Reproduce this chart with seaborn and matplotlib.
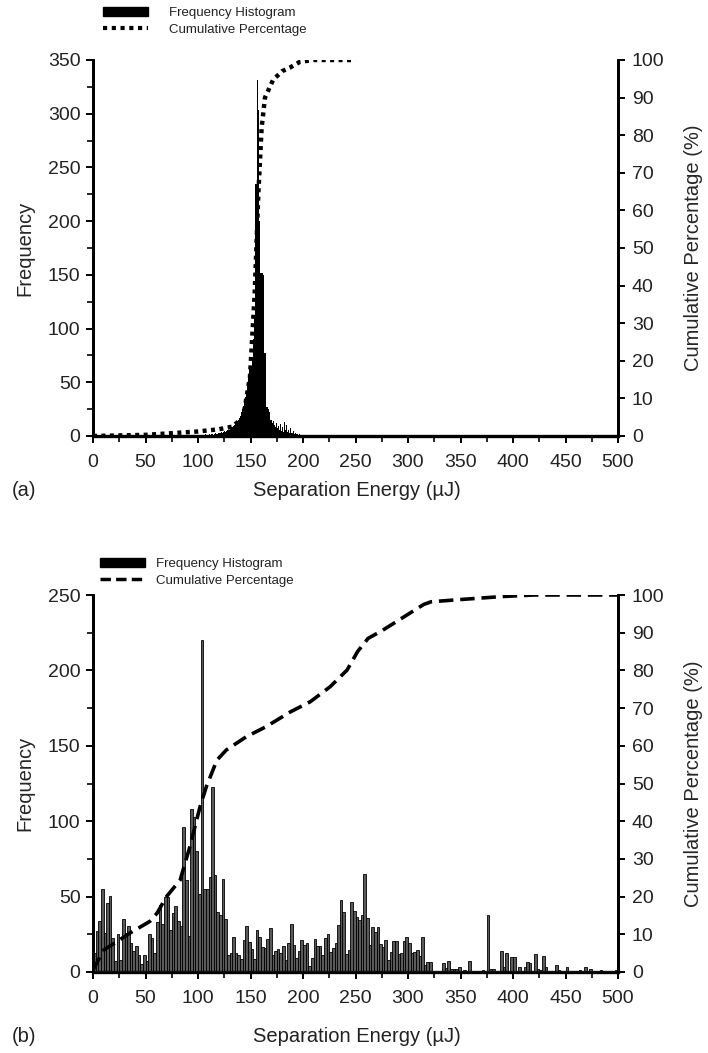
import numpy as np
import pandas as pd
import matplotlib
matplotlib.use("Agg")
import matplotlib.pyplot as plt
import seaborn as sns
from matplotlib.patches import Patch
from matplotlib.lines import Line2D
from matplotlib.ticker import MultipleLocator

# ---------------- data: panel (a) ----------------
# 1 uJ bins starting at 100 uJ (left edges)
top_bin_start = 100
top_freq = [
    1, 0, 1, 1, 0, 1, 1, 2, 1, 1,          # 100-109
    2, 1, 2, 2, 1, 2, 3, 2, 2, 3,          # 110-119
    3, 3, 4, 3, 4, 5, 4, 5, 6, 6,          # 120-129
    7, 8, 8, 9, 10, 11, 12, 14, 15, 17,    # 130-139
    19, 22, 25, 28, 32, 36, 42, 48, 55, 62,  # 140-149
    65, 72, 90, 110, 235, 235, 331, 303, 200, 152,  # 150-159
    152, 152, 150, 77, 77, 27, 27, 25, 22, 15,  # 160-169
    12, 14, 10, 8, 12, 7, 9, 6, 11, 5,     # 170-179
    8, 4, 13, 6, 10, 4, 6, 3, 7, 3,        # 180-189
    5, 2, 3, 2, 2, 1, 2, 1, 1, 1,          # 190-199
    1, 0, 1, 0, 1, 0, 1, 0, 0, 1,          # 200-209
]
top_cum_energy = [0, 50, 100, 120, 133, 143, 149.5, 154, 157.5, 160.6, 163.8,
                  171.5, 180, 187.6, 197, 210, 250]
top_cum_pct = [0, 0.3, 1.2, 1.8, 2.5, 5, 15.7, 38, 64.6, 82, 90,
               94.7, 97, 98, 99.5, 100, 100]

# ---------------- data: panel (b) ----------------
# 2.5 uJ bins from 0 to 500 uJ
bot_bin_width = 2.5
bot_freq_dense = [
    12.6, 27, 33.6, 55, 26, 45.8, 50.6, 22.5, 7, 25,
    8, 35, 26, 30.7, 19, 13.7, 17, 11, 5, 11,
    7, 25, 22.5, 12.6, 33, 44.6, 32, 50, 50, 27.6,
    39, 44, 33.6, 30.7, 96, 61, 23.6, 108, 103, 80,
    52, 220, 55, 55, 63, 123, 64.5, 40, 38, 62,
    35, 11, 12.6, 23, 12.6, 11, 8.6, 21, 30.7, 20,
    15, 8.6, 28, 23, 16.6, 16, 22, 29, 11, 14,
    15, 12.6, 17, 8, 19, 32, 18, 9, 13.7, 21,
    18, 19, 4, 9, 22, 17, 17.5, 11.5, 22.5, 25,
    13, 16, 19, 31, 48, 40, 12, 14.6, 46.6, 40.7,
    36.7, 34.5, 37.8, 64.8, 35.6, 18, 29.6, 26.7, 29.6, 18.6,
    16.8, 21, 8, 13.5, 20.6, 20.6, 12, 12.4, 20.6, 23.4,
    19.5, 12.8, 13.5, 14.6, 10.6, 23.4, 4.6, 6.9, 6.9,
]
# sparse tail: bin index -> frequency
bot_tail_bin = [133, 134, 135, 136, 137, 138, 139, 141, 143, 146, 148, 150, 151, 152,
                155, 156, 157, 159, 160, 162, 164, 165, 166, 168, 169, 170, 171, 172,
                176, 177, 180, 185, 187, 189, 193, 199]
bot_tail_freq = [6, 2.5, 7.5, 2, 2, 2, 3.5, 1.3, 7, 0.5, 1.3, 37.8, 1.8, 1.8,
                 14, 3, 12.8, 9.7, 9.7, 3.5, 3, 6.9, 6.2, 11.7, 1.8, 1.3, 10.6, 3,
                 4.6, 1.3, 3.5, 1.3, 3, 1.8, 1.3, 1.3]
bot_cum_energy = [0, 10, 22.5, 35, 54, 61, 70, 83, 92, 102, 108, 113, 118, 127,
                  146, 165, 188, 207, 226, 242, 252, 262, 275, 295, 315, 322,
                  350, 390, 420, 500]
bot_cum_pct = [0.5, 5.8, 8, 10.3, 13.4, 15.6, 20, 24.4, 33, 43.9, 49.2, 52.7, 56.2, 58.9,
               62.4, 65.1, 69, 71.7, 75.7, 80.1, 85, 88.5, 90.5, 94, 97.5, 98.2,
               98.8, 99.6, 100, 100]

x_ticks = list(range(0, 501, 50))

# ---------------- build frames ----------------
top_edges = [top_bin_start + i for i in range(len(top_freq) + 1)]
df_top = pd.DataFrame({"energy": [e + 0.5 for e in top_edges[:-1]], "freq": top_freq})

n_bot = 200
bot_freq = np.zeros(n_bot)
bot_freq[:len(bot_freq_dense)] = bot_freq_dense
bot_freq[bot_tail_bin] = bot_tail_freq
bot_edges = [i * bot_bin_width for i in range(n_bot + 1)]
df_bot = pd.DataFrame({"energy": [e + bot_bin_width / 2 for e in bot_edges[:-1]],
                       "freq": bot_freq})

df_top_cum = pd.DataFrame({"energy": top_cum_energy, "pct": top_cum_pct})
df_bot_cum = pd.DataFrame({"energy": bot_cum_energy, "pct": bot_cum_pct})

# ---------------- style ----------------
sns.set_theme(style="white")
plt.rcParams["font.family"] = ["Liberation Sans", "DejaVu Sans"]
plt.rcParams["text.color"] = "#222222"

fig = plt.figure(figsize=(7.08, 10.53), dpi=100)
W, H = 708, 1053
ax1 = fig.add_axes([93 / W, 1 - 436 / H, 525 / W, 376 / H])
ax2 = fig.add_axes([93 / W, 1 - 972 / H, 525 / W, 377 / H])

TICK_FS = 14
LABEL_FS = 14.5

sns.histplot(data=df_top, x="energy", weights="freq", bins=top_edges,
             color="black", alpha=1, linewidth=0, ax=ax1, legend=False)
sns.histplot(data=df_bot, x="energy", weights="freq", bins=bot_edges,
             color="#5a5a5a", edgecolor="black", linewidth=0.6, alpha=1,
             ax=ax2, legend=False)

ax1r = ax1.twinx()
ax2r = ax2.twinx()
sns.lineplot(data=df_top_cum, x="energy", y="pct", ax=ax1r, color="black",
             linewidth=3.2, linestyle=(0, (0.9, 1.0)), dash_capstyle="butt",
             sort=False)
sns.lineplot(data=df_bot_cum, x="energy", y="pct", ax=ax2r, color="black",
             linewidth=2.6, linestyle=(0, (4.0, 1.9)), sort=False)

for ax, axr, ymax, ystep, yminor in [(ax1, ax1r, 350, 50, 25), (ax2, ax2r, 250, 50, 25)]:
    ax.set_xlim(0, 500)
    ax.set_ylim(0, ymax)
    axr.set_ylim(0, 100)
    ax.set_xticks(x_ticks)
    ax.xaxis.set_minor_locator(MultipleLocator(25))
    ax.yaxis.set_major_locator(MultipleLocator(ystep))
    ax.yaxis.set_minor_locator(MultipleLocator(yminor))
    axr.yaxis.set_major_locator(MultipleLocator(10))
    for a in (ax, axr):
        a.spines["top"].set_visible(False)
        for s in ("left", "right", "bottom"):
            a.spines[s].set_color("black")
            a.spines[s].set_linewidth(2.0)
    ax.spines["bottom"].set_linewidth(2.4)
    ax.tick_params(axis="both", which="major", direction="out", length=5, width=1.4,
                   labelsize=TICK_FS, colors="black", labelcolor="#222222",
                   left=True, bottom=True, pad=4)
    ax.tick_params(axis="x", which="major", pad=8)
    ax.tick_params(axis="both", which="minor", direction="out", length=4, width=1.2,
                   left=True, bottom=True, colors="black")
    axr.tick_params(axis="y", which="major", direction="out", length=5, width=1.4,
                    labelsize=TICK_FS, colors="black", labelcolor="#222222",
                    right=True, pad=5)
    ax.set_ylabel("Frequency", fontsize=LABEL_FS, labelpad=10)
    axr.set_ylabel("Cumulative Percentage (%)", fontsize=LABEL_FS, labelpad=14)
    ax.set_xlabel("")
    ax.grid(False)
    axr.grid(False)

ax2.axhline(0, color="#c9b200", linewidth=1.4, zorder=10, clip_on=False)

# x labels and panel letters
for yc, letter in [(491, "(a)"), (1037, "(b)")]:
    fig.text(357 / W, 1 - yc / H, "Separation Energy (\u00b5J)", fontsize=LABEL_FS,
             va="center", ha="center")
    fig.text(12 / W, 1 - yc / H, letter, fontsize=LABEL_FS, va="center", ha="left")

# legends
LEG_FS = 9.5
h_bar = Patch(facecolor="black", edgecolor="black")
h_dot = Line2D([], [], color="black", linewidth=3.0, linestyle=(0, (1, 1.1)))
h_dash = Line2D([], [], color="black", linewidth=2.5, linestyle=(0, (3.0, 1.5)))
fig.legend([h_bar, h_dot], ["Frequency Histogram", "Cumulative Percentage"],
           loc="upper left", bbox_to_anchor=(98 / W, 1 - 2 / H), frameon=False,
           fontsize=LEG_FS, handlelength=3.4, handleheight=0.6,
           handletextpad=1.6, labelspacing=0.35, borderaxespad=0)
fig.legend([h_bar, h_dash], ["Frequency Histogram", "Cumulative Percentage"],
           loc="upper left", bbox_to_anchor=(95 / W, 1 - 553 / H), frameon=False,
           fontsize=LEG_FS, handlelength=3.4, handleheight=0.6,
           handletextpad=0.8, labelspacing=0.35, borderaxespad=0)

fig.savefig("out.png", dpi=100, facecolor="white")
